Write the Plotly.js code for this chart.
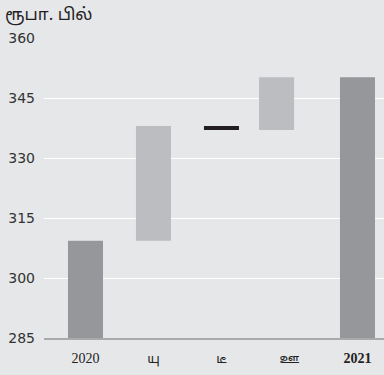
<!DOCTYPE html>
<html>
<head>
<meta charset="utf-8">
<script src="https://cdn.plot.ly/plotly-3.0.1.min.js"></script>
<style>
html,body{margin:0;padding:0;background:#e6e7e9;}
#chart{width:384px;height:375px;}
</style>
</head>
<body>
<div id="chart"></div>
<script>
// Data
const categories = ["2020", "யு", "டீ", "ஊ", "2021"];
const measures = ["absolute", "relative", "relative", "relative", "total"];
const values = [309.3, 28.7, -1.0, 13.2, 0];
const tickLabels = ["2020", "யு", "டீ", "ஊ", "<b>2021</b>"];
const yTicks = [285, 300, 315, 330, 345, 360];
const unitLabel = "ரூபா. பில்";

const tamilFont = "Noto Sans Tamil, Lohit Tamil, Noto Sans, sans-serif";
const ticktext = tickLabels.map(function (t, i) {
  return (i === 0 || i === tickLabels.length - 1) ? t
    : '<span style="font-family:' + tamilFont + ';font-size:13px">' + t + '</span>';
});

const trace = {
  type: "waterfall",
  x: categories,
  y: values,
  measure: measures,
  width: 0.515,
  offset: [-0.2575, -0.2575, -0.2575, -0.4475, -0.2575],
  connector: {visible: false},
  totals: {marker: {color: "#96979a"}},
  increasing: {marker: {color: "#bcbdc0"}},
  decreasing: {marker: {color: "#231f20"}},
  textinfo: "none",
  hoverinfo: "none"
};

const layout = {
  width: 384,
  height: 375,
  margin: {l: 44, r: 0, t: 38, b: 37},
  paper_bgcolor: "#e6e7e9",
  plot_bgcolor: "#e6e7e9",
  showlegend: false,
  title: {
    text: unitLabel,
    x: 5/384, xanchor: "left", xref: "container",
    y: 1 - 14/375, yanchor: "middle", yref: "container",
    font: {family: tamilFont, size: 17, color: "#222222"}
  },
  xaxis: {
    type: "category",
    range: [-0.61, 4.39],
    tickvals: categories,
    ticktext: ticktext,
    showgrid: false,
    zeroline: false,
    showline: true,
    linecolor: "#a9aaac",
    linewidth: 2,
    ticks: "",
    ticklabelstandoff: 6,
    tickfont: {family: "Liberation Serif, DejaVu Serif", size: 14, color: "#222222"}
  },
  yaxis: {
    range: [285, 360],
    tickvals: yTicks,
    showgrid: true,
    gridcolor: "#ffffff",
    gridwidth: 1,
    zeroline: false,
    showline: false,
    ticks: "",
    ticklabelstandoff: 8,
    tickfont: {family: "DejaVu Sans", size: 14, color: "#333333"}
  }
};

Plotly.newPlot("chart", [trace], layout, {displayModeBar: false, staticPlot: true});
</script>
</body>
</html>
